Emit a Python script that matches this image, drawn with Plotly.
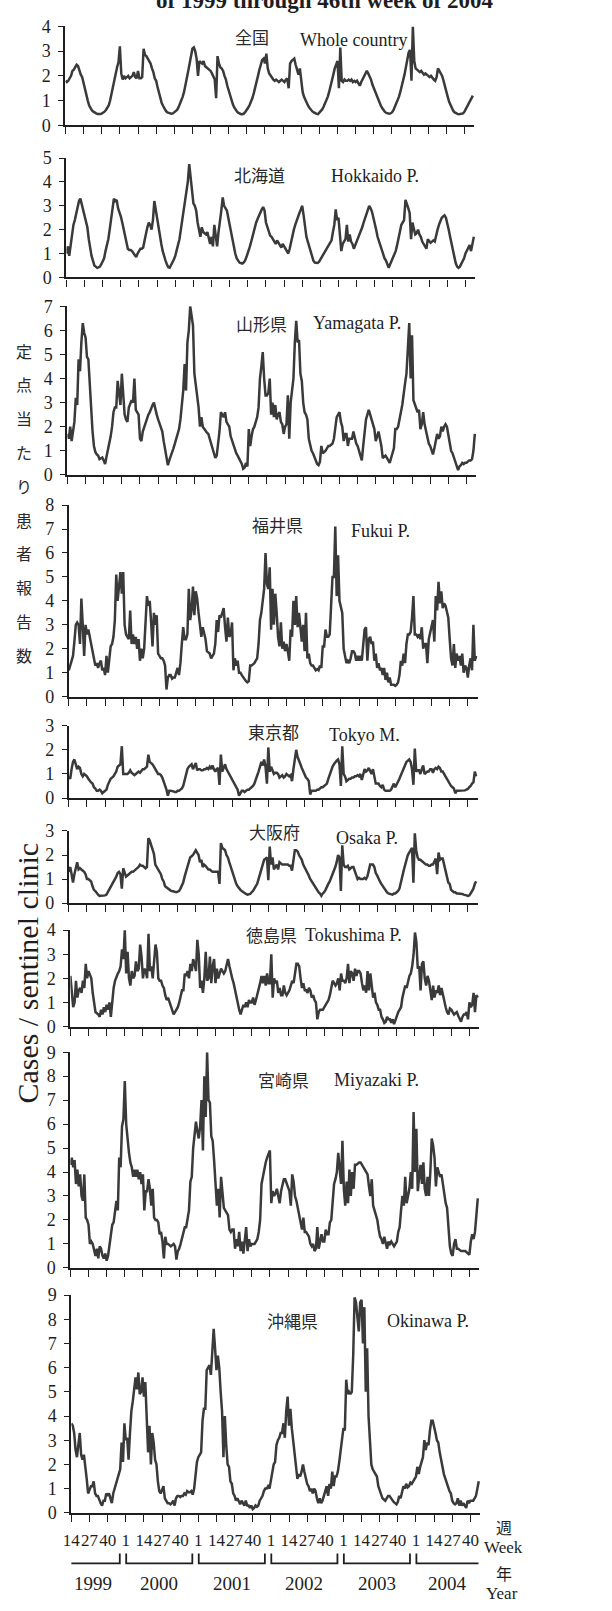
import plotly.graph_objects as go

W, H = 612, 1611

# Weekly reports per sentinel clinic, week 14 of 1999 onward (one value per week)
nation = [
    1.8, 1.75, 1.8, 1.9, 2.0, 2.2, 2.25, 2.35, 2.45, 2.4, 2.2, 2.05, 1.95,
    1.7, 1.4, 1.2, 1.0, 0.8, 0.68, 0.6, 0.55, 0.5, 0.48, 0.46, 0.45, 0.46,
    0.47, 0.5, 0.55, 0.62, 0.7, 0.8, 1.0, 1.3, 1.55, 1.85, 2.1, 2.35, 2.55,
    3.2, 2.1, 1.85, 2.0, 1.9, 1.95, 2.0, 1.9, 1.95, 2.0, 2.15, 1.95, 1.9,
    2.2, 1.9, 1.9, 1.95, 3.1, 2.85, 2.8, 2.7, 2.6, 2.5, 2.3, 2.15, 1.9,
    1.8, 1.55, 1.3, 1.1, 0.9, 0.78, 0.65, 0.58, 0.52, 0.5, 0.48, 0.47, 0.48,
    0.52, 0.56, 0.62, 0.72, 0.85, 1.0, 1.15, 1.35, 1.6, 1.85, 2.2, 2.5, 2.8,
    3.1, 3.15, 3.0, 2.7, 2.0, 2.6, 2.55, 2.5, 2.6, 2.4, 2.35, 2.3, 2.25,
    2.2, 2.1, 2.0, 1.85, 1.1, 2.8, 2.5, 2.35, 2.3, 2.2, 2.0, 1.85, 1.6,
    1.4, 1.2, 1.0, 0.85, 0.72, 0.62, 0.55, 0.5, 0.47, 0.45, 0.45, 0.48, 0.55,
    0.62, 0.72, 0.82, 0.95, 1.1, 1.3, 1.5, 1.75, 2.0, 2.25, 2.5, 2.65, 2.7,
    2.5, 2.9, 2.3, 2.1, 2.0, 1.95, 1.85, 1.8, 1.85, 1.8, 1.75, 1.8, 1.85,
    1.8, 1.75, 1.85, 1.9, 1.5, 2.5, 2.6, 2.65, 2.7, 2.45, 2.2, 2.05, 2.3,
    1.7, 1.35, 1.15, 1.0, 0.88, 0.78, 0.7, 0.62, 0.56, 0.52, 0.48, 0.46, 0.45,
    0.5, 0.56, 0.64, 0.75, 0.88, 1.0, 1.15, 1.35, 1.55, 1.8, 2.05, 2.3, 2.5,
    2.6, 1.5, 3.15, 1.8, 1.75, 1.85, 1.8, 1.8, 1.85, 1.8, 1.85, 1.75, 1.8,
    1.75, 1.8, 1.7, 1.6, 1.75, 1.85, 2.0, 2.1, 2.2, 2.1, 2.0, 1.85, 1.65,
    1.5, 1.35, 1.2, 1.05, 0.92, 0.8, 0.7, 0.6, 0.54, 0.5, 0.48, 0.47, 0.48,
    0.52, 0.6, 0.72, 0.85, 1.0, 1.15, 1.35, 1.55, 1.8, 2.05, 2.35, 2.65, 2.95,
    3.05, 1.8, 4.0, 2.6, 2.3, 2.25, 2.2, 2.15, 2.2, 2.1, 2.05, 2.1, 2.05,
    2.0, 1.95, 2.0, 1.9, 1.85, 1.8, 1.95, 2.3, 2.2, 2.1, 2.0, 1.8, 1.55,
    1.35, 1.15, 0.95, 0.8, 0.68, 0.58, 0.52, 0.48, 0.46, 0.45, 0.45, 0.46, 0.48,
    0.55, 0.65, 0.75, 0.9, 1.0, 1.1, 1.2,
]

hokkaido = [
    1.0, 1.3, 0.9, 1.35, 1.6, 2.2, 2.4, 2.7, 2.9, 3.2, 3.3, 3.05, 2.9,
    2.6, 2.4, 2.1, 1.6, 1.2, 0.9, 0.7, 0.5, 0.45, 0.4, 0.42, 0.45, 0.55,
    0.65, 0.8, 1.1, 1.3, 1.6, 2.0, 2.4, 2.9, 3.3, 3.2, 3.25, 2.9, 2.75,
    2.55, 2.3, 2.0, 1.7, 1.45, 1.2, 1.15, 1.15, 1.1, 1.0, 0.9, 0.85, 1.0,
    1.1, 1.2, 1.2, 1.25, 1.55, 1.9, 2.1, 2.3, 2.2, 2.0, 2.4, 3.2, 2.8,
    2.5, 2.1, 1.8, 1.4, 1.1, 0.85, 0.7, 0.55, 0.42, 0.4, 0.5, 0.6, 0.75,
    0.9, 1.1, 1.3, 1.6, 2.0, 2.4, 2.8, 3.2, 3.6, 4.0, 4.75, 4.2, 3.7,
    3.1, 3.0, 2.8, 2.3, 2.0, 1.7, 2.1, 1.9, 1.85, 1.8, 1.9, 1.6, 1.4,
    1.7, 1.3, 2.2, 1.6, 1.3, 1.9, 2.5, 2.8, 3.35, 3.0, 2.9, 2.8, 2.5,
    2.2, 1.8, 1.5, 1.2, 1.0, 0.8, 0.7, 0.62, 0.6, 0.58, 0.62, 0.7, 0.85,
    1.0, 1.2, 1.4, 1.65, 1.9, 2.1, 2.3, 2.45, 2.6, 2.75, 2.85, 2.95, 2.8,
    2.3, 2.1, 1.9, 1.75, 1.7, 1.6, 1.5, 1.4, 1.55, 1.45, 1.3, 1.25, 1.4,
    1.3, 1.2, 1.1, 1.0, 1.2, 1.5, 1.75, 2.0, 2.2, 2.4, 2.55, 2.7, 2.85,
    3.0, 2.6, 2.0, 1.7, 1.5, 1.3, 1.0, 0.85, 0.7, 0.62, 0.6, 0.6, 0.65,
    0.75, 0.85, 0.95, 1.0, 1.1, 1.2, 1.3, 1.45, 1.55, 1.9, 2.2, 2.85, 2.4,
    2.5, 1.7, 1.1, 1.4, 1.5, 1.6, 2.2, 1.5, 1.8, 1.5, 1.4, 1.2, 1.35,
    1.5, 1.6, 1.8, 1.9, 2.1, 2.3, 2.5, 2.6, 2.8, 3.0, 2.9, 2.75, 2.5,
    2.3, 2.0, 1.7, 1.5, 1.3, 1.1, 0.95, 0.8, 0.7, 0.55, 0.4, 0.55, 0.7,
    0.85, 1.0, 1.1, 1.35, 1.6, 1.9, 2.2, 2.3, 2.4, 3.25, 3.1, 2.9, 2.7,
    1.6, 2.3, 2.0, 1.8, 1.85, 2.0, 1.8, 1.7, 1.5, 1.4, 1.25, 1.2, 1.6,
    1.5, 1.45, 1.5, 1.55, 1.5, 1.8, 2.0, 2.2, 2.4, 2.5, 2.55, 2.6, 2.5,
    2.3, 2.0, 1.7, 1.4, 1.1, 0.8, 0.6, 0.45, 0.4, 0.45, 0.55, 0.65, 0.8,
    1.0, 1.1, 1.2, 1.35, 1.1, 1.4, 1.7,
]

yamagata = [
    1.7, 1.5, 2.0, 1.4, 1.8, 2.2, 3.2, 2.9, 4.8, 4.3, 5.5, 6.3, 5.9,
    5.7, 4.9, 4.8, 3.8, 2.6, 1.8, 1.2, 0.95, 0.85, 0.8, 0.65, 0.7, 0.72,
    0.6, 0.45, 0.75, 1.0, 1.3, 1.6, 2.0, 2.6, 2.8, 2.8, 3.9, 3.3, 2.9,
    4.2, 3.4, 2.5, 2.3, 2.2, 2.8, 3.0, 3.1, 3.0, 4.0, 2.7, 2.6, 2.5,
    1.5, 1.4, 1.8, 2.0, 2.1, 2.3, 2.5, 2.6, 2.8, 2.9, 3.0, 2.7, 2.5,
    2.3, 2.1, 1.9, 1.8, 1.4, 1.0, 0.6, 0.4, 0.6, 0.75, 0.9, 1.1, 1.3,
    1.5, 1.7, 1.9, 2.3, 2.9, 3.5, 4.6, 3.5, 5.5, 6.0, 7.0, 6.5, 6.2,
    4.2, 3.7, 3.3, 2.8, 2.0, 2.4, 2.0, 1.9, 1.8, 1.75, 1.7, 1.5, 1.3,
    1.2, 0.9, 0.7, 0.8, 1.2, 1.8, 2.6, 2.5, 2.4, 2.6, 2.2, 2.1, 2.0,
    1.6, 1.4, 1.2, 1.0, 0.9, 0.8, 0.7, 0.6, 0.45, 0.25, 0.3, 0.5, 0.35,
    1.9, 1.2, 1.6, 1.9, 2.0, 2.2, 2.4, 2.8, 4.0, 4.5, 5.1, 4.0, 3.3,
    3.3, 3.4, 4.0, 2.5, 3.0, 2.4, 2.9, 2.3, 2.5, 2.6, 2.2, 2.1, 1.7,
    2.0, 2.1, 3.3, 1.5, 3.0, 3.5, 4.0, 5.5, 6.4, 5.5, 5.6, 4.2, 3.9,
    3.0, 2.6, 2.5, 2.3, 1.5, 1.2, 1.0, 0.9, 0.75, 0.6, 0.45, 0.4, 0.55,
    1.2, 0.9, 0.95, 1.0, 1.1, 1.2, 1.2, 1.25, 1.3, 1.5, 1.9, 2.4, 2.5,
    2.6, 2.2, 2.0, 1.4, 1.7, 1.7, 1.2, 1.5, 1.5, 1.5, 1.8, 1.5, 1.3,
    1.2, 1.0, 0.8, 0.6, 1.2, 1.8, 2.3, 2.5, 2.7, 2.5, 2.3, 2.1, 1.9,
    1.4, 1.6, 1.8, 1.5, 1.2, 0.7, 0.75, 0.8, 0.7, 0.6, 0.5, 0.7, 0.9,
    1.1, 1.9, 1.9, 2.0, 2.4, 2.6, 2.9, 3.5, 3.8, 4.2, 5.3, 6.3, 4.0,
    5.8, 3.1, 2.9, 2.8, 2.6, 2.7, 1.9, 2.1, 2.6, 2.1, 1.8, 1.5, 1.3,
    1.2, 1.0, 0.85, 1.1, 1.4, 1.7, 1.5, 1.6, 2.0, 1.8, 2.0, 2.1, 2.0,
    1.6, 1.2, 1.0, 0.9, 0.7, 0.5, 0.4, 0.2, 0.35, 0.4, 0.5, 0.45, 0.5,
    0.5, 0.55, 0.6, 0.6, 0.65, 1.0, 1.7,
]

fukui = [
    1.1, 1.3, 1.4, 1.7, 2.3, 3.0, 3.1, 3.0, 2.2, 4.1, 3.0, 1.7, 3.0,
    2.6, 2.8, 2.5, 2.1, 1.8, 1.5, 1.3, 1.4, 1.2, 1.4, 1.5, 1.1, 1.2,
    0.9, 1.7, 1.0, 1.5, 2.1, 2.2, 2.5, 3.2, 5.1, 4.0, 4.5, 5.2, 4.3,
    5.2, 3.0, 2.6, 2.5, 2.4, 3.6, 2.2, 2.6, 2.2, 2.5, 2.0, 2.4, 1.5,
    2.0, 1.6, 2.0, 3.0, 4.2, 3.8, 4.0, 3.1, 2.1, 3.5, 3.0, 3.4, 1.8,
    1.7, 1.6, 1.6, 1.5, 1.3, 0.3, 0.8, 0.9, 0.9, 0.75, 0.8, 0.8, 1.0,
    1.2, 0.9, 1.4, 2.2, 2.9, 2.4, 2.4, 2.6, 4.5, 3.2, 3.6, 4.6, 3.4,
    4.4, 4.1, 3.5, 3.0, 2.5, 2.9, 2.7, 2.4, 1.9, 1.85, 1.8, 1.6, 1.7,
    1.8, 2.2, 3.2, 2.7, 3.4, 3.3, 3.5, 3.7, 2.9, 2.3, 3.3, 2.5, 2.6,
    3.1, 1.1, 1.6, 1.3, 1.5, 1.0, 1.0, 0.9, 0.8, 0.7, 0.65, 0.6, 0.65,
    1.3, 1.3, 1.35, 1.4, 1.5, 1.6, 2.2, 3.2, 3.5, 4.1, 4.5, 6.0, 4.7,
    4.5, 5.4, 2.8, 4.5, 3.0, 4.3, 3.5, 2.5, 2.1, 3.1, 2.0, 2.3, 1.9,
    2.2, 1.9, 1.5, 2.8, 2.5, 4.0, 3.0, 4.2, 2.9, 3.5, 2.7, 2.3, 3.0,
    1.9, 3.5, 1.6, 1.8, 1.4, 1.3, 1.3, 1.2, 1.1, 1.15, 1.1, 1.3, 1.2,
    2.1, 2.1, 2.8, 2.5, 2.5, 2.6, 3.8, 5.0, 5.0, 7.1, 4.2, 5.9, 4.0,
    3.7, 3.5, 2.0, 1.6, 1.4, 1.5, 1.4, 1.6, 1.9, 1.9, 1.8, 1.5, 1.7,
    1.5, 1.7, 1.5, 2.1, 2.8, 2.9, 1.5, 2.4, 2.5, 2.2, 2.3, 1.5, 1.8,
    1.2, 1.4, 1.1, 1.2, 0.9, 1.2, 0.7, 1.0, 0.6, 0.8, 0.5, 0.5, 0.5,
    0.45, 0.5, 0.6, 0.9, 1.5, 1.3, 1.8, 1.4, 2.2, 2.6, 2.6, 2.7, 3.3,
    4.2, 2.6, 2.6, 2.5, 2.6, 2.4, 2.9, 2.0, 2.2, 2.2, 1.4, 2.4, 2.7,
    2.9, 3.2, 2.3, 4.2, 3.6, 4.8, 3.9, 4.4, 3.7, 3.9, 3.8, 3.5, 3.3,
    2.4, 1.6, 1.3, 2.2, 1.2, 1.8, 1.5, 1.7, 1.3, 1.8, 1.0, 1.3, 1.2,
    0.8, 1.3, 1.6, 1.1, 3.0, 1.5, 1.7,
]

tokyo = [
    0.9, 0.8, 1.2, 1.5, 1.6, 1.35, 1.2, 1.3, 1.25, 1.0, 0.9, 1.0, 0.95,
    0.9, 0.8, 0.7, 0.65, 0.6, 0.45, 0.4, 0.3, 0.3, 0.35, 0.3, 0.2, 0.25,
    0.3, 0.35, 0.55, 0.7, 0.8, 0.85, 0.9, 1.0, 1.1, 1.3, 1.35, 1.4, 2.15,
    1.0, 1.0, 1.0, 1.0, 1.05, 1.15, 1.05, 1.0, 0.95, 1.0, 1.05, 1.1, 1.05,
    1.15, 1.2, 1.2, 1.25, 1.3, 1.8, 1.5, 1.45, 1.4, 1.3, 1.2, 1.1, 1.0,
    1.0, 0.95, 0.85, 0.7, 0.5, 0.35, 0.1, 0.3, 0.3, 0.3, 0.28, 0.25, 0.25,
    0.3, 0.3, 0.35, 0.4, 0.5, 0.75, 1.0, 1.2, 1.3, 1.35, 1.4, 1.2, 1.3,
    1.45, 1.15, 1.2, 1.2, 1.15, 1.15, 1.2, 1.2, 1.25, 1.2, 1.3, 1.2, 1.35,
    1.2, 1.1, 1.2, 1.25, 0.55, 1.8, 1.1, 1.3, 1.4, 1.2, 1.1, 1.0, 0.9,
    0.8, 0.7, 0.6, 0.45, 0.35, 0.1, 0.2, 0.3, 0.3, 0.25, 0.3, 0.35, 0.35,
    0.4, 0.45, 0.5, 0.6, 0.75, 0.9, 1.1, 1.3, 1.5, 1.35, 1.6, 1.3, 0.6,
    2.1, 1.1, 1.3, 1.1, 1.0, 1.05, 1.05, 1.0, 0.85, 0.9, 0.95, 0.85, 0.9,
    1.0, 0.95, 0.9, 0.95, 0.7, 1.2, 1.6, 2.0, 1.7, 1.5, 1.4, 1.25, 1.1,
    1.0, 0.85, 0.8, 0.7, 0.15, 0.3, 0.3, 0.3, 0.3, 0.35, 0.35, 0.4, 0.45,
    0.45, 0.5, 0.55, 0.6, 0.8, 1.0, 1.15, 1.3, 1.4, 1.5, 1.55, 1.6, 1.4,
    0.5, 2.15, 1.0, 0.9, 0.7, 0.75, 0.8, 0.8, 0.85, 0.85, 0.9, 0.9, 0.95,
    0.9, 1.0, 0.75, 1.0, 1.2, 1.1, 1.15, 1.25, 1.1, 1.0, 1.2, 0.9, 0.6,
    0.6, 0.6, 0.5, 0.45, 0.55, 0.35, 0.3, 0.3, 0.3, 0.3, 0.35, 0.45, 0.6,
    0.45, 0.55, 0.7, 0.8, 0.95, 1.1, 1.25, 1.4, 1.5, 1.55, 1.6, 1.5, 1.2,
    0.55, 2.05, 1.1, 1.15, 1.15, 1.0, 1.2, 1.35, 1.0, 1.05, 1.1, 1.1, 1.2,
    1.2, 1.05, 1.2, 1.25, 1.2, 1.3, 1.25, 1.1, 1.1, 1.0, 0.9, 0.75, 0.7,
    0.6, 0.5, 0.45, 0.4, 0.2, 0.3, 0.3, 0.3, 0.3, 0.3, 0.3, 0.32, 0.35,
    0.38, 0.45, 0.5, 0.6, 0.65, 1.1, 0.9,
]

osaka = [
    1.3, 1.5, 1.2, 0.85, 1.2, 1.5, 1.7, 1.4, 1.45, 1.4, 1.35, 1.3, 1.2,
    1.0, 1.0, 0.95, 0.9, 0.7, 0.55, 0.5, 0.4, 0.35, 0.3, 0.3, 0.3, 0.3,
    0.32, 0.35, 0.45, 0.55, 0.65, 0.75, 0.85, 1.0, 1.1, 1.25, 1.3, 1.2, 0.6,
    1.45, 1.3, 1.1, 1.15, 1.2, 1.25, 1.3, 1.3, 1.35, 1.4, 1.45, 1.5, 1.6,
    1.55, 1.55, 1.5, 1.45, 1.5, 2.7, 2.6, 2.4, 2.3, 2.05, 1.6, 1.5, 1.4,
    1.3, 1.2, 1.0, 0.9, 0.7, 0.65, 0.6, 0.55, 0.52, 0.5, 0.48, 0.45, 0.45,
    0.48, 0.5, 0.6, 0.7, 0.85, 1.1, 1.3, 1.6, 1.75, 1.9, 1.95, 2.0, 2.1,
    2.2, 2.1, 2.0, 1.7, 1.8, 1.5, 1.6, 1.55, 1.45, 1.4, 1.4, 1.35, 1.3,
    1.3, 1.3, 1.3, 1.3, 0.8, 2.5, 2.3, 2.25, 2.2, 2.0, 1.9, 1.7, 1.5,
    1.3, 1.1, 0.95, 0.8, 0.7, 0.6, 0.55, 0.5, 0.45, 0.4, 0.38, 0.35, 0.35,
    0.38, 0.45, 0.5, 0.6, 0.7, 0.8, 1.0, 1.2, 1.4, 1.6, 1.8, 1.85, 1.9,
    0.95, 2.35, 1.6, 1.9, 1.4, 1.5, 1.6, 1.4, 1.7, 1.65, 1.6, 1.6, 1.6,
    1.6, 1.6, 1.55, 1.55, 1.35, 1.8, 2.2, 2.2, 2.15, 2.0, 1.9, 1.8, 1.6,
    1.5, 1.4, 1.3, 1.15, 1.0, 0.9, 0.8, 0.7, 0.6, 0.5, 0.45, 0.4, 0.3,
    0.4, 0.45, 0.55, 0.7, 0.8, 0.9, 1.05, 1.2, 1.3, 1.5, 1.7, 2.0, 1.9,
    0.5, 2.4, 1.6, 1.5, 1.5, 1.55, 1.4, 1.45, 1.5, 1.5, 1.3, 1.2, 1.0,
    1.05, 1.0, 1.0, 1.0, 1.05, 1.0, 1.1, 1.3, 1.6, 1.6, 1.6, 1.5, 1.25,
    1.15, 1.0, 0.9, 0.8, 0.7, 0.6, 0.55, 0.45, 0.4, 0.38, 0.35, 0.35, 0.4,
    0.4, 0.45, 0.5, 0.6, 0.8, 1.1, 1.35, 1.6, 1.8, 2.0, 2.1, 2.2, 2.3,
    0.85, 2.9, 2.2, 1.9, 1.8, 1.8, 1.75, 1.7, 1.65, 1.6, 1.6, 1.55, 1.55,
    1.6, 1.6, 1.7, 1.85, 1.2, 2.1, 1.8, 1.85, 1.85, 1.6, 1.3, 1.1, 0.85,
    0.8, 0.55, 0.5, 0.45, 0.45, 0.4, 0.4, 0.4, 0.4, 0.38, 0.35, 0.35, 0.32,
    0.3, 0.32, 0.4, 0.5, 0.6, 0.8, 0.9,
]

tokushima = [
    2.1, 1.3, 0.8, 1.0, 1.9, 1.2, 1.5, 1.6, 1.4, 1.9, 1.6, 2.6, 2.0,
    2.3, 2.1, 2.0, 1.4, 0.9, 0.6, 0.55, 0.5, 0.4, 0.7, 0.5, 0.8, 0.6,
    0.9, 0.7, 1.0, 0.4, 1.2, 1.6, 1.9, 2.1, 2.2, 2.3, 2.5, 3.2, 2.8,
    4.0, 2.2, 3.1, 2.0, 1.7, 2.3, 2.0, 2.1, 2.7, 2.3, 2.4, 3.4, 2.9,
    2.0, 2.4, 2.3, 2.0, 3.85, 2.3, 2.5, 2.0, 2.9, 3.4, 3.1, 2.0, 1.9,
    1.9, 1.7, 1.6, 1.3, 1.1, 1.2, 1.0, 0.9, 0.7, 0.5, 0.6, 0.7, 0.8,
    1.0, 1.3, 1.5, 1.5, 2.2, 2.1, 2.3, 2.0, 2.6, 2.3, 2.8, 2.6, 2.3,
    3.6, 3.0, 1.6, 1.9, 1.4, 2.0, 3.1, 1.9, 2.0, 2.9, 1.8, 2.5, 2.8,
    1.8, 2.4, 2.0, 2.2, 2.4, 2.3, 2.2, 2.3, 2.6, 2.8, 2.5, 2.2, 2.0,
    1.8, 1.5, 1.3, 0.9, 0.7, 0.5, 0.7, 0.9, 0.8, 1.0, 0.8, 1.1, 1.0,
    1.0, 1.2, 0.9, 1.1, 1.3, 1.5, 1.8, 2.1, 1.8, 2.1, 1.7, 2.2, 1.8,
    1.8, 3.0, 1.2, 2.0, 1.8, 1.9, 1.4, 1.6, 1.3, 1.3, 1.7, 1.4, 1.3,
    1.4, 1.5, 1.7, 1.9, 1.8, 2.3, 2.6, 2.6, 2.5, 2.0, 1.6, 1.8, 1.5,
    1.5, 1.4, 1.6, 1.5, 1.2, 1.3, 1.1, 1.0, 0.3, 0.6, 0.7, 0.7, 0.7,
    0.8, 0.9, 1.0, 1.1, 1.3, 1.6, 1.9, 1.8, 1.7, 1.8, 2.0, 1.5, 2.2,
    1.9, 1.9, 1.8, 2.0, 2.6, 1.8, 2.3, 2.2, 1.9, 2.4, 2.1, 2.3, 2.3,
    2.2, 1.8, 1.5, 1.7, 1.4, 2.3, 1.5, 2.2, 1.8, 1.2, 1.4, 1.0, 0.9,
    0.7, 0.7, 0.4, 0.3, 0.15, 0.2, 0.4, 0.3, 0.3, 0.15, 0.3, 0.1, 0.3,
    0.4, 0.6, 0.7, 0.8, 1.2, 1.5, 1.7, 1.6, 1.9, 2.1, 2.2, 2.5, 3.0,
    3.9, 3.5, 2.4, 2.5, 1.5, 2.6, 2.7, 2.0, 1.7, 2.1, 1.9, 1.5, 1.1,
    1.7, 1.2, 1.5, 1.4, 1.7, 1.3, 1.6, 1.3, 1.0, 0.8, 0.6, 0.5, 0.75,
    0.7, 0.6, 0.5, 0.55, 0.6, 0.45, 0.3, 0.2, 0.4, 0.5, 0.5, 0.6, 0.3,
    1.0, 0.8, 0.9, 1.4, 0.6, 1.3, 1.2,
]

miyazaki = [
    4.3, 4.6, 4.2, 4.5, 3.5, 4.1, 3.4, 3.9, 3.0, 2.8, 3.9, 2.1, 2.0,
    1.8, 1.0, 1.1, 1.0, 0.8, 0.5, 0.8, 0.4, 0.9, 0.8, 0.5, 0.4, 0.6,
    0.3, 0.5, 0.9, 1.3, 1.8, 1.9, 2.3, 2.8, 2.4, 4.6, 4.2, 5.9, 6.2,
    7.8, 6.0, 5.3, 4.8, 4.4, 4.2, 3.8, 4.1, 3.8, 4.1, 3.7, 4.0, 3.5,
    3.9, 2.4, 3.2, 3.2, 3.7, 3.3, 2.6, 3.3, 2.1, 2.0, 2.0, 1.9, 1.4,
    1.5, 1.1, 0.4, 1.3, 1.0, 1.0, 0.95, 0.9, 0.95, 1.0, 0.9, 0.35, 0.7,
    0.8, 1.0, 1.2, 1.5, 1.7, 1.7, 2.1, 2.4, 3.6, 3.8, 5.0, 5.5, 6.1,
    5.7, 5.4, 5.9, 7.0, 4.9, 8.0, 6.3, 9.0, 7.0, 6.9, 5.5, 5.3, 4.5,
    3.5, 2.6, 3.3, 2.1, 3.8, 3.2, 2.5, 2.4, 2.3, 2.2, 1.6, 1.5, 1.6,
    1.6, 0.8, 1.2, 0.9, 1.5, 0.7, 1.1, 0.6, 1.2, 1.7, 0.7, 1.2, 0.9,
    1.0, 1.0, 1.0, 1.1, 1.2, 1.5, 2.0, 3.5, 3.8, 4.2, 4.4, 4.6, 4.8,
    4.9, 2.7, 3.2, 3.0, 3.1, 3.3, 3.0, 2.7, 3.2, 3.5, 3.7, 3.7, 3.5,
    3.4, 3.2, 2.6, 3.9, 3.6, 3.0, 2.8, 2.5, 2.2, 1.8, 1.6, 2.1, 1.5,
    1.5, 1.4, 1.3, 1.0, 0.9, 1.0, 0.7, 0.8, 1.7, 0.8, 1.2, 1.4, 1.1,
    1.1, 1.6, 1.4, 1.4, 1.9, 2.0, 2.9, 3.5, 3.7, 4.0, 4.8, 4.2, 3.5,
    5.3, 3.3, 2.6, 3.6, 2.7, 4.1, 3.0, 4.0, 3.3, 4.3, 4.3, 4.35, 4.4,
    4.4, 4.3, 4.2, 4.1, 4.0, 3.9, 3.4, 3.0, 3.7, 2.6, 2.4, 2.2, 2.0,
    1.6, 1.3, 1.2, 1.0, 1.3, 1.1, 0.8, 1.1, 1.0, 1.1, 1.0, 0.9, 1.0,
    1.1, 1.5, 1.7, 2.4, 3.0, 2.6, 3.8, 2.7, 3.0, 3.3, 4.0, 3.3, 6.5,
    4.0, 5.8, 3.2, 3.8, 4.3, 3.5, 4.4, 3.3, 3.0, 3.8, 3.0, 4.0, 5.4,
    5.1, 4.6, 3.4, 4.2, 4.0, 3.8, 3.9, 3.5, 3.0, 2.7, 2.5, 1.7, 0.9,
    0.6, 0.5, 1.0, 1.2, 0.8, 0.8, 0.75, 0.7, 0.7, 0.7, 0.7, 0.65, 0.6,
    0.55, 1.1, 1.4, 1.2, 1.5, 2.2, 2.9,
]

okinawa = [
    3.7, 3.6, 3.3, 2.6, 2.3, 2.9, 3.3, 2.4, 2.2, 2.4, 2.0, 1.4, 0.8,
    1.0, 1.1, 1.1, 1.3, 0.8, 0.7, 0.7, 0.5, 0.4, 0.3, 0.5, 0.5, 0.8,
    0.7, 0.8, 0.6, 0.4, 0.8, 1.0, 1.2, 1.5, 1.7, 1.8, 2.9, 2.1, 3.7,
    3.0, 3.1, 2.2, 3.3, 4.2, 4.6, 5.0, 5.6, 5.1, 5.8, 4.9, 5.0, 5.6,
    4.8, 5.4, 3.5, 2.5, 3.6, 2.0, 3.3, 2.9, 2.2, 2.0, 1.3, 0.9, 0.8,
    0.95, 1.1, 0.6, 0.5, 0.4, 0.4, 0.35, 0.4, 0.5, 0.3, 0.6, 0.7, 0.7,
    0.65, 0.7, 0.7, 0.8, 0.75, 0.9, 0.85, 0.85, 0.9, 0.75, 1.0, 1.6, 2.1,
    2.3, 2.4, 2.5, 3.8, 4.3, 4.3, 5.9, 6.0, 6.1, 5.7, 6.5, 7.6, 6.8,
    5.9, 6.5, 6.0, 5.0, 4.2, 2.3, 4.0, 2.8, 2.0, 1.9, 1.3, 1.2, 0.8,
    0.7, 0.5, 0.6, 0.5, 0.35, 0.5, 0.4, 0.3, 0.5, 0.3, 0.3, 0.2, 0.3,
    0.15, 0.2, 0.3, 0.25, 0.3, 0.5, 0.6, 0.7, 0.9, 1.0, 1.0, 1.1, 1.0,
    1.3, 1.7, 2.0, 2.1, 2.8, 3.0, 3.1, 3.3, 3.3, 3.7, 3.1, 4.2, 4.8,
    3.6, 4.3, 3.5, 2.9, 2.6, 2.0, 1.4, 1.6, 1.5, 1.7, 2.0, 1.7, 1.4,
    1.2, 1.1, 0.9, 1.0, 0.8, 1.0, 0.9, 0.6, 0.4, 0.6, 0.4, 0.5, 0.7,
    0.8, 1.1, 0.7, 1.2, 1.0, 1.7, 1.1, 1.5, 1.5, 1.7, 2.1, 2.5, 2.9,
    3.5, 3.4, 5.5, 4.9, 5.0, 4.9, 5.0, 6.5, 8.9, 8.7, 8.2, 7.5, 8.7,
    8.8, 7.0, 8.5, 5.0, 6.8, 4.0, 3.0, 2.0, 1.8, 1.7, 1.6, 1.5, 1.1,
    0.9, 0.7, 0.6, 0.55, 0.5, 0.6, 0.7, 0.7, 0.6, 0.5, 0.45, 0.4, 0.35,
    0.45, 0.7, 0.6, 0.8, 1.1, 1.0, 1.2, 1.05, 1.1, 1.25, 1.2, 1.3, 1.4,
    1.5, 1.9, 1.6, 1.9, 2.1, 2.3, 3.0, 2.6, 2.9, 2.8, 3.4, 3.8, 3.8,
    3.6, 3.3, 3.0, 2.9, 2.5, 2.1, 1.9, 1.6, 1.4, 1.2, 1.0, 0.9, 0.8,
    0.5, 0.4, 0.35, 0.4, 0.6, 0.3, 0.5, 0.3, 0.4, 0.3, 0.2, 0.5, 0.4,
    0.5, 0.5, 0.5, 0.6, 0.7, 1.0, 1.3,
]

# Region names (Japanese / English), y-axis maxima
region_jp = ["全国", "北海道", "山形県", "福井県", "東京都", "大阪府", "徳島県", "宮崎県", "沖縄県"]
region_en = ["Whole country", "Hokkaido P.", "Yamagata P.", "Fukui P.", "Tokyo M.",
             "Osaka P.", "Tokushima P.", "Miyazaki P.", "Okinawa P."]
y_max = [4, 5, 7, 8, 3, 3, 4, 9, 9]
series = [nation, hokkaido, yamagata, fukui, tokyo, osaka, tokushima, miyazaki, okinawa]

# x-axis: ticks every 13 weeks starting at week 14 of 1999
week_labels = ["14", "27", "40"] + ["1", "14", "27", "40"] * 5
years = ["1999", "2000", "2001", "2002", "2003", "2004"]
year_start_week = [-3.5, 39, 91, 143, 195, 247]   # index of week 1 in each year

# ---- page geometry (pixels) ----
PX_PER_WEEK = 1.416
X_SPAN = 293.1
AXIS_W = X_SPAN * PX_PER_WEEK
# (left edge of plot, pixel of y=0, pixel of y=max)
frames = [
    (57.3, 116.7, 16.7),
    (58.3, 270.7, 150.0),
    (59.3, 470.7, 300.0),
    (60.7, 695.3, 501.3),
    (60.7, 798.0, 724.7),
    (60.7, 904.3, 831.3),
    (62.3, 1029.3, 931.7),
    (62.3, 1273.7, 1055.3),
    (63.3, 1521.7, 1301.2),
]
# (jp label left x, jp y, en label left x, en y)
label_pos = [
    (227, 27, 293, 30),
    (226, 167, 325, 168),
    (228, 317, 307, 317),
    (245, 521, 345, 528),
    (241, 731, 323, 734),
    (242, 832, 330, 838),
    (238, 936, 298, 937),
    (251, 1083, 328, 1083),
    (260, 1327, 382, 1327),
]

SERIF = "Liberation Serif, Times New Roman, serif"
CJK = "Noto Sans CJK JP"
INK = "#1e1e1e"
LINE = "#3a3a3a"


def px(x):
    return x / W


def py(y):
    return 1 - y / H


fig = go.Figure()
layout = dict(
    width=W, height=H,
    margin=dict(l=0, r=0, t=0, b=0),
    paper_bgcolor="white", plot_bgcolor="white",
    showlegend=False,
    font=dict(family=SERIF, color=INK),
)
annotations = []
shapes = []

tick_vals = [13 * k for k in range(len(week_labels))]

for i, vals in enumerate(series):
    n = i + 1
    xn = "x" if n == 1 else f"x{n}"
    yn = "y" if n == 1 else f"y{n}"
    left, y0, ytop = frames[i]
    fig.add_trace(go.Scatter(
        x=list(range(len(vals))), y=vals, mode="lines",
        line=dict(color=LINE, width=2.5),
        xaxis=xn, yaxis=yn, hoverinfo="skip",
    ))
    last = n == len(series)
    xa = dict(
        domain=[px(left), px(left + AXIS_W)], range=[0, X_SPAN], anchor=yn,
        showline=True, linecolor=INK, linewidth=2.4,
        ticks="outside", ticklen=7, tickwidth=1.4, tickcolor=INK,
        tickvals=tick_vals, showgrid=False, zeroline=False,
        showticklabels=last, fixedrange=True,
    )
    if last:
        xa.update(ticktext=week_labels, tickangle=0, ticklabelstandoff=4,
                  tickfont=dict(family=SERIF, size=17, color=INK))
    ya = dict(
        domain=[py(y0), py(ytop)], range=[0, y_max[i]], anchor=xn,
        showline=True, linecolor=INK, linewidth=2.0,
        ticks="outside", ticklen=5, tickwidth=1.4, tickcolor=INK,
        tick0=0, dtick=1, showgrid=False, zeroline=False, fixedrange=True,
        ticklabelstandoff=4,
        tickfont=dict(family=SERIF, size=18, color=INK),
    )
    layout["xaxis" if n == 1 else f"xaxis{n}"] = xa
    layout["yaxis" if n == 1 else f"yaxis{n}"] = ya

    jx, jy, ex, ey = label_pos[i]
    annotations.append(dict(
        x=px(jx), y=py(jy), xref="paper", yref="paper", xanchor="left", yanchor="middle",
        text=region_jp[i], showarrow=False, font=dict(family=CJK, size=17, color="#2a2a2a"),
    ))
    annotations.append(dict(
        x=px(ex), y=py(ey), xref="paper", yref="paper", xanchor="left", yanchor="middle",
        text=region_en[i], showarrow=False, font=dict(family=SERIF, size=18, color=INK),
    ))

# Year brackets under the bottom panel
BR_LINE = 1573
BR_TOP = 1563
last_week = len(okinawa) - 1.2
for k, yr in enumerate(years):
    x0 = year_start_week[k] + (0.3 if k > 0 else 0)
    x1 = year_start_week[k + 1] - 4.3 if k + 1 < len(years) else last_week
    pts = []
    if k > 0:
        pts.append((x0, BR_TOP))
    pts.append((x0, BR_LINE))
    pts.append((x1, BR_LINE))
    if k + 1 < len(years):
        pts.append((x1, BR_TOP))
    path = "M " + " L ".join(f"{a},{py(b)}" for a, b in pts)
    shapes.append(dict(type="path", path=path, xref="x9", yref="paper",
                       line=dict(color=INK, width=1.8)))
    annotations.append(dict(
        x=(x0 + x1) / 2, y=py(1593), xref="x9", yref="paper",
        xanchor="center", yanchor="middle", text=yr, showarrow=False,
        font=dict(family=SERIF, size=19, color=INK),
    ))

# Axis captions at the right of the week/year rows
for txt, xc, yc, fam, sz in [
    ("週", 502, 1536, CJK, 16),
    ("Week", 502, 1557, SERIF, 17),
    ("年", 502, 1583, CJK, 16),
    ("Year", 500, 1603, SERIF, 17),
]:
    annotations.append(dict(
        x=px(xc), y=py(yc), xref="paper", yref="paper", xanchor="center", yanchor="middle",
        text=txt, showarrow=False, font=dict(family=fam, size=sz, color=INK),
    ))

# Vertical Japanese y-axis caption, one character per line
jp_caption = "定点当たり患者報告数"
for k, ch in enumerate(jp_caption):
    annotations.append(dict(
        x=px(15), y=py(345 + 34.2 * k), xref="paper", yref="paper",
        xanchor="center", yanchor="middle", text=ch, showarrow=False,
        font=dict(family=CJK, size=16, color="#2a2a2a"),
    ))

# Rotated English y-axis caption
annotations.append(dict(
    x=px(19), y=py(975), xref="paper", yref="paper", xanchor="center", yanchor="middle",
    text="Cases / sentinel clinic", textangle=-90, showarrow=False,
    font=dict(family=SERIF, size=30, color=INK),
))

# Title line running off the top edge
annotations.append(dict(
    x=px(320), y=py(5), xref="paper", yref="paper", xanchor="center", yanchor="bottom",
    text="<b>of 1999 through 46th week of 2004</b>", showarrow=False,
    font=dict(family=SERIF, size=23, color=INK),
))

layout["annotations"] = annotations
layout["shapes"] = shapes
fig.update_layout(**layout)
fig.write_html(
    "out.html",
    post_script="document.body.style.margin='0';document.body.style.padding='0';",
)
